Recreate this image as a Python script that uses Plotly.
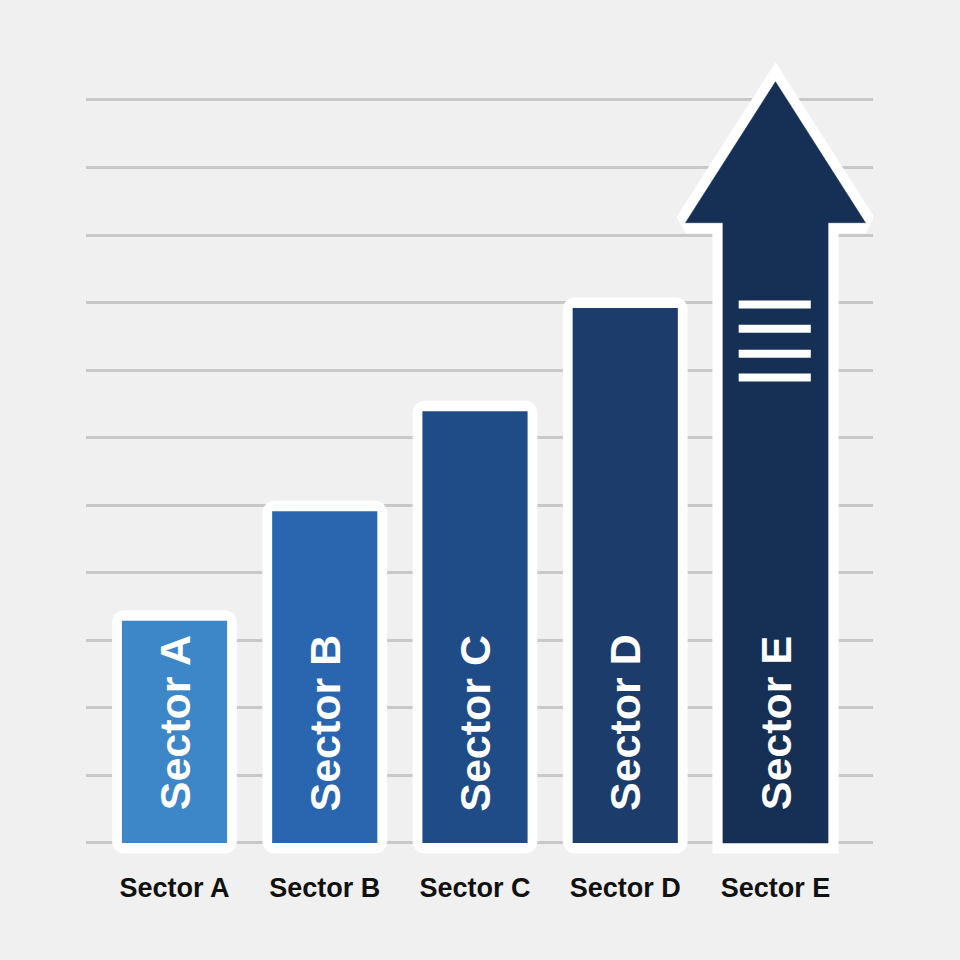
import plotly.graph_objects as go

# categories and values (in gridline units, baseline = 0)
sectors = ["Sector A", "Sector B", "Sector C", "Sector D", "Sector E"]
values = [3.29, 4.91, 6.39, 7.92, 11.27]
bar_colors = ["#3d86c8", "#2a66b0", "#1f4c86", "#1c3d6b", "#152f55"]
grid_levels = list(range(12))

FONT = "Liberation Sans, Arial, sans-serif"
ppu = 67.55            # pixels per y unit
xppu = 150.25          # pixels per x unit
pad = 10.5 / ppu       # white frame thickness in y units
inner_w = 0.70
outer_w = 0.83

xs = list(range(len(sectors)))
fig = go.Figure()

# white frames behind the first four bars
fig.add_trace(go.Bar(
    x=xs[:4], y=[v + 2 * pad for v in values[:4]], base=-pad,
    width=outer_w,
    marker=dict(color="white", cornerradius=12, line_width=0),
    hoverinfo="skip",
))
# coloured bars
fig.add_trace(go.Bar(
    x=xs[:4], y=values[:4], width=inner_w,
    marker=dict(color=bar_colors[:4], line_width=0),
    hoverinfo="skip",
))

# last sector drawn as an arrow
xe, ve = xs[4], values[4]
head_h = 141 / ppu
hw = 90 / xppu
sw = inner_w / 2
hb = ve - head_h
ax = [xe - sw, xe - sw, xe - hw, xe, xe + hw, xe + sw, xe + sw, xe - sw, xe - sw]
ay = [0, hb, hb, ve, hb, hb, 0, 0, hb]
fig.add_trace(go.Scatter(
    x=ax, y=ay, mode="lines", fill="toself", fillcolor="white",
    line=dict(color="white", width=21), hoverinfo="skip",
))
fig.add_trace(go.Scatter(
    x=ax[:-1], y=ay[:-1], mode="lines", fill="toself", fillcolor=bar_colors[4],
    line=dict(color=bar_colors[4], width=0.5), hoverinfo="skip",
))

# little "menu" icon on the arrow shaft
mx, my = [], []
for off in [1.21, 1.57, 1.94, 2.29]:
    mx += [xe - 0.245, xe + 0.235, None]
    my += [hb - off, hb - off, None]
fig.add_trace(go.Scatter(
    x=mx, y=my, mode="lines", line=dict(color="white", width=8),
    hoverinfo="skip",
))

# rotated labels inside bars
for i, s in enumerate(sectors):
    fig.add_annotation(
        x=xs[i], y=1.78, text=s, textangle=-90, showarrow=False,
        font=dict(family=FONT, size=43, color="white", weight="bold"),
    )

fig.update_layout(
    width=960, height=960,
    margin=dict(l=86, r=87, t=0, b=95),
    paper_bgcolor="#f0f0f0", plot_bgcolor="#f0f0f0",
    barmode="overlay", showlegend=False,
    xaxis=dict(range=[-0.589, 4.649], tickvals=xs, ticktext=sectors,
               showgrid=False, zeroline=False, showline=False,
               ticklabelstandoff=4,
               tickfont=dict(family=FONT, size=27, color="#111111", weight="bold")),
    yaxis=dict(range=[-0.326, 12.48], tickvals=grid_levels, showticklabels=False,
               gridcolor="#c8c8c8", gridwidth=3, zeroline=False),
)

fig.write_html("out.html", config={"displayModeBar": False},
               post_script="document.body.style.margin='0';")
